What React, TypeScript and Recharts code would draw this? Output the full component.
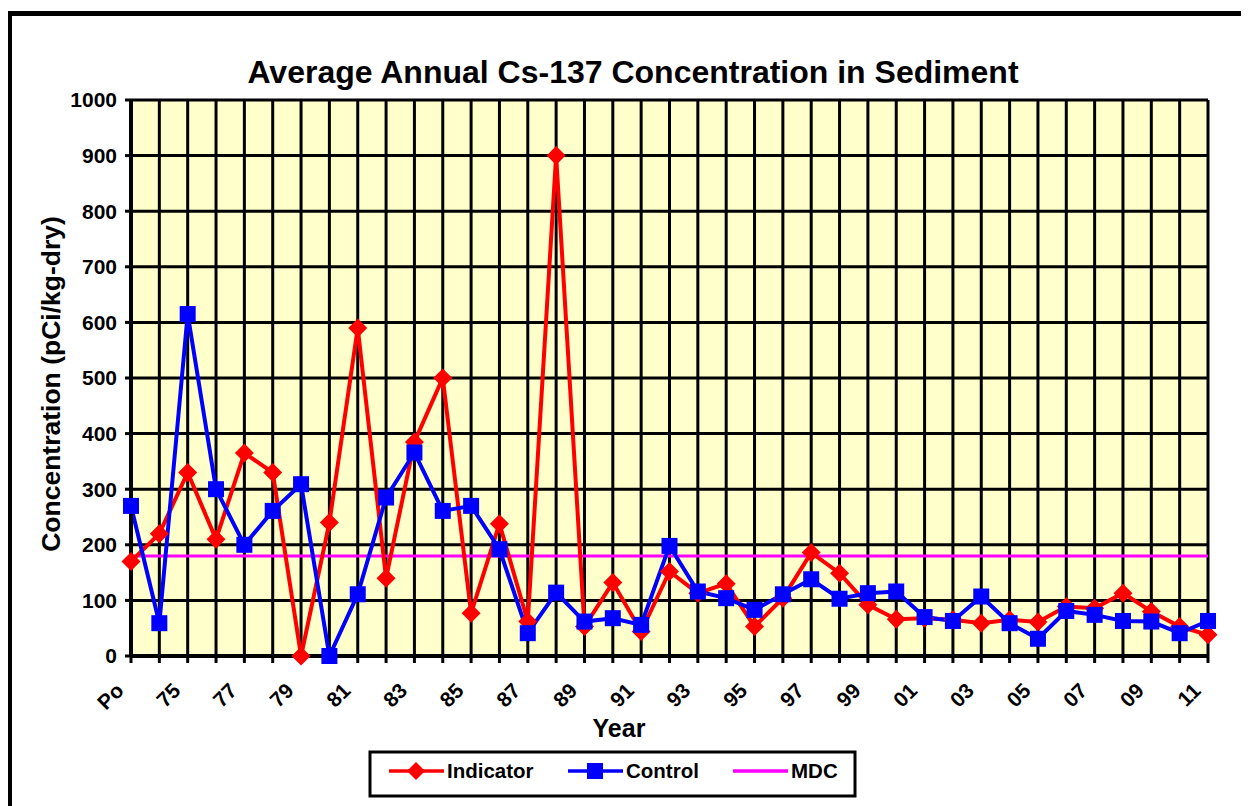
import React from "react";
import {
  ComposedChart,
  Line,
  XAxis,
  YAxis,
  CartesianGrid,
  ReferenceLine,
} from "recharts";

const years = [
  "Po", "74", "75", "76", "77", "78", "79", "80", "81", "82", "83", "84", "85",
  "86", "87", "88", "89", "90", "91", "92", "93", "94", "95", "96", "97", "98",
  "99", "00", "01", "02", "03", "04", "05", "06", "07", "08", "09", "10", "11",
];

const indicator = [
  170, 220, 330, 210, 365, 330, 0, 240, 590, 140,
  385, 500, 77, 238, 62, 900, 53, 132, 44, 152,
  113, 130, 53, 104, 186, 149, 92, 66, 68, 65,
  59, 65, 61, 89, 86, 113, 80, 53, 38,
];

const control = [
  270, 59, 615, 300, 200, 261, 309, 0, 111, 285,
  366, 261, 270, 192, 41, 114, 62, 68, 56, 198,
  116, 104, 83, 111, 138, 103, 113, 116, 70, 63,
  107, 59, 31, 81, 74, 63, 62, 41, 63,
];

const MDC = 180;

const yTicks = [0, 100, 200, 300, 400, 500, 600, 700, 800, 900, 1000];

const legendItems = [
  { name: "Indicator", color: "#FF0000", marker: "diamond" },
  { name: "Control", color: "#0000FF", marker: "square" },
  { name: "MDC", color: "#FF00FF", marker: "none" },
];

const data = years.map((y, i) => ({
  year: y,
  indicator: indicator[i],
  control: control[i],
}));

const FONT = "'Liberation Sans', Arial, Helvetica, sans-serif";

const W = 1241;
const H = 798;

const Diamond = (props: any) => {
  const { cx, cy, index } = props;
  if (cx == null || cy == null) return <g key={`d-${index}`} />;
  const r = 9.5;
  return (
    <path
      key={`d-${index}`}
      d={`M${cx},${cy - r} L${cx + r},${cy} L${cx},${cy + r} L${cx - r},${cy} Z`}
      fill="#FF0000"
      stroke="none"
    />
  );
};

const Square = (props: any) => {
  const { cx, cy, index } = props;
  if (cx == null || cy == null) return <g key={`s-${index}`} />;
  const s = 16;
  return (
    <rect
      key={`s-${index}`}
      x={cx - s / 2}
      y={cy - s / 2}
      width={s}
      height={s}
      fill="#0000FF"
      stroke="none"
    />
  );
};

const XTick = (props: any) => {
  const { x, y, payload, index } = props;
  const idx = payload && payload.index != null ? payload.index : index;
  if (idx % 2 !== 0) return <g />;
  const ax = x - 6;
  const ay = y + 27;
  return (
    <text
      x={ax}
      y={ay}
      textAnchor="end"
      transform={`rotate(-45, ${ax}, ${ay})`}
      fontFamily={FONT}
      fontWeight={700}
      fontSize={21}
      fill="#000"
    >
      {payload.value}
    </text>
  );
};

export default function App() {
  return (
    <div
      style={{
        position: "relative",
        width: W,
        height: H,
        overflow: "hidden",
        background: "#fff",
        fontFamily: FONT,
      }}
    >
      <style>{"html,body{overflow:hidden}"}</style>
      <div
        style={{
          position: "absolute",
          left: -1,
          top: 3,
          width: 1300,
          height: 900,
          border: "5px solid #000",
          boxSizing: "border-box",
        }}
      />
      <div style={{ position: "absolute", left: 0, top: 0 }}>
        <ComposedChart
          width={W}
          height={H}
          data={data}
          margin={{ top: 92, right: 41, bottom: 100, left: 0 }}
        >
          <CartesianGrid
            stroke="#000"
            strokeWidth={3}
            fill="#FFFFCC"
            fillOpacity={1}
            vertical={true}
            horizontal={true}
          />
          <XAxis
            dataKey="year"
            type="category"
            scale="point"
            padding={{ left: 0, right: 0 }}
            interval={0}
            height={50}
            tickSize={7}
            tickMargin={2}
            axisLine={{ stroke: "#000", strokeWidth: 4 }}
            tickLine={{ stroke: "#000", strokeWidth: 3 }}
            tick={<XTick />}
          />
          <YAxis
            type="number"
            domain={[0, 1000]}
            ticks={yTicks}
            interval={0}
            width={123}
            tickSize={6}
            tickMargin={8}
            axisLine={{ stroke: "#000", strokeWidth: 4 }}
            tickLine={{ stroke: "#000", strokeWidth: 3 }}
            tick={{ fill: "#000", fontSize: 21, fontWeight: 700, fontFamily: FONT }}
          />
          <ReferenceLine y={MDC} stroke="#FF00FF" strokeWidth={3} ifOverflow="extendDomain" />
          <Line
            type="linear"
            dataKey="indicator"
            stroke="#FF0000"
            strokeWidth={4}
            dot={<Diamond />}
            activeDot={false}
            isAnimationActive={false}
          />
          <Line
            type="linear"
            dataKey="control"
            stroke="#0000FF"
            strokeWidth={4}
            dot={<Square />}
            activeDot={false}
            isAnimationActive={false}
          />
        </ComposedChart>
      </div>
      <svg
        width={W}
        height={H}
        style={{ position: "absolute", left: 0, top: 0, pointerEvents: "none" }}
      >
        <text
          x={625}
          y={75}
          textAnchor="middle"
          fontFamily={FONT}
          fontWeight={700}
          fontSize={32}
          fill="#000"
        >
          Average Annual Cs-137 Concentration in Sediment
        </text>
        <text
          x={43}
          y={376}
          textAnchor="middle"
          dominantBaseline="central"
          transform="rotate(-90, 43, 376)"
          fontFamily={FONT}
          fontWeight={700}
          fontSize={26.5}
          fill="#000"
        >
          Concentration (pCi/kg-dry)
        </text>
        <text
          x={611}
          y={729}
          textAnchor="middle"
          fontFamily={FONT}
          fontWeight={700}
          fontSize={25}
          fill="#000"
        >
          Year
        </text>
        <rect x={362} y={744} width={485} height={44} fill="#fff" stroke="#000" strokeWidth={3} />
        {legendItems.map((it, i) => {
          const lx = [381, 560, 725][i];
          const cy = 763;
          const mid = lx + 27;
          return (
            <g key={it.name}>
              <line x1={lx} y1={cy} x2={lx + 55} y2={cy} stroke={it.color} strokeWidth={3.5} />
              {it.marker === "diamond" && (
                <path
                  d={`M${mid},${cy - 9} L${mid + 9},${cy} L${mid},${cy + 9} L${mid - 9},${cy} Z`}
                  fill={it.color}
                />
              )}
              {it.marker === "square" && (
                <rect x={mid - 8} y={cy - 8} width={16} height={16} fill={it.color} />
              )}
              <text
                x={lx + 58}
                y={cy + 7}
                fontFamily={FONT}
                fontWeight={700}
                fontSize={20.5}
                fill="#000"
              >
                {it.name}
              </text>
            </g>
          );
        })}
      </svg>
    </div>
  );
}
